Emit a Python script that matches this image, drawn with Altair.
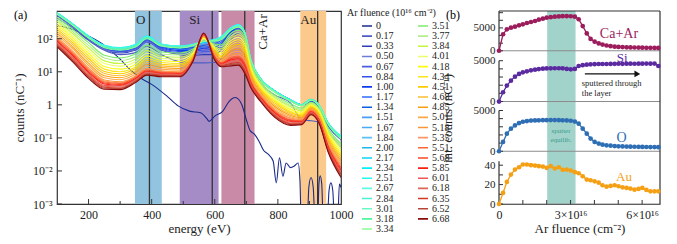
import altair as alt
import pandas as pd

FONT = "Liberation Serif"
INK = "#333333"

# ---------------- panel (a): spectra ----------------
fluence_labels = ["0", "0.17", "0.33", "0.50", "0.67", "0.84", "1.00", "1.17", "1.34", "1.51",
                  "1.67", "1.84", "2.00", "2.17", "2.34", "2.51", "2.67", "2.84", "3.01", "3.18", "3.34",
                  "3.51", "3.77", "3.84", "4.01", "4.18", "4.34", "4.51", "4.68", "4.85", "5.01",
                  "5.18", "5.35", "5.51", "5.68", "5.85", "6.01", "6.18", "6.35", "6.52", "6.68"]
curve_colors = ["#1a2a8a", "#4c5cc0", "#2e3eb4", "#6c7cdc", "#4a5ce0", "#3550e6", "#0a3cf0", "#2a6cff",
                "#0f5ee0", "#4a9ef4", "#48a8fa", "#5cc0fa", "#1cb8ea", "#0ad6f8", "#00eefe", "#1efcf0",
                "#5cfce6", "#48f0d6", "#6cf8c6", "#4cf6a0", "#8cfc94",
                "#7cec6c", "#b4ee8c", "#c4f640", "#eefc6c", "#fcfc10", "#fce41a", "#fccc00", "#fcbc30",
                "#fc9e10", "#fca848", "#fc9638", "#fc9668", "#fc6636", "#fc4626", "#fc1e10", "#ee5656",
                "#de6656", "#d63626", "#b64636", "#8a0a0a"]

energy_nodes = [100, 150, 200, 250, 300, 350, 385, 430, 490, 530, 565, 600, 620, 650, 675, 695,
                715, 745, 790, 840, 875, 905, 930, 960, 1000]

# log10(counts) for fluences 0.17 ... 6.68 at energy_nodes
spectra_log10 = [
    [2.62, 2.32, 1.95, 1.65, 1.52, 1.58, 1.78, 1.52, 1.30, 1.27, 1.27, 1.28, 1.40, 1.95, 2.18, 2.00, 1.20, 0.65, 0.30, 0.05, -0.45, -0.48, -0.52, -0.85, -1.25],
    [2.70, 2.36, 1.98, 1.68, 1.57, 1.66, 1.90, 1.66, 1.52, 1.50, 1.52, 1.52, 1.65, 2.10, 2.28, 2.08, 1.28, 0.75, 0.40, 0.12, -0.02, 0.10, -0.05, -0.65, -1.05],
    [2.71, 2.37, 1.99, 1.69, 1.59, 1.68, 1.92, 1.68, 1.55, 1.54, 1.57, 1.57, 1.70, 2.13, 2.30, 2.09, 1.29, 0.76, 0.40, 0.12, -0.02, 0.11, -0.05, -0.64, -1.04],
    [2.72, 2.38, 2.00, 1.71, 1.61, 1.70, 1.94, 1.70, 1.58, 1.58, 1.61, 1.63, 1.75, 2.15, 2.31, 2.11, 1.29, 0.76, 0.41, 0.13, -0.01, 0.11, -0.04, -0.63, -1.03],
    [2.73, 2.39, 2.01, 1.72, 1.63, 1.72, 1.96, 1.72, 1.61, 1.62, 1.66, 1.68, 1.80, 2.18, 2.33, 2.12, 1.30, 0.77, 0.41, 0.13, -0.01, 0.12, -0.04, -0.62, -1.02],
    [2.74, 2.40, 2.03, 1.73, 1.64, 1.74, 1.99, 1.75, 1.64, 1.65, 1.71, 1.74, 1.85, 2.20, 2.35, 2.14, 1.31, 0.77, 0.41, 0.14, -0.01, 0.13, -0.03, -0.61, -1.00],
    [2.75, 2.41, 2.04, 1.74, 1.66, 1.76, 2.01, 1.77, 1.67, 1.69, 1.75, 1.79, 1.90, 2.23, 2.37, 2.15, 1.31, 0.78, 0.41, 0.14, 0.00, 0.13, -0.03, -0.60, -0.99],
    [2.76, 2.42, 2.05, 1.76, 1.68, 1.78, 2.03, 1.79, 1.70, 1.73, 1.80, 1.85, 1.95, 2.25, 2.38, 2.17, 1.32, 0.78, 0.42, 0.15, 0.00, 0.14, -0.02, -0.59, -0.98],
    [2.77, 2.43, 2.06, 1.77, 1.70, 1.80, 2.05, 1.81, 1.73, 1.77, 1.85, 1.90, 2.00, 2.28, 2.40, 2.18, 1.33, 0.79, 0.42, 0.15, 0.00, 0.15, -0.02, -0.58, -0.97],
    [2.77, 2.43, 2.06, 1.77, 1.70, 1.80, 2.05, 1.81, 1.74, 1.78, 1.86, 1.91, 2.01, 2.29, 2.40, 2.18, 1.33, 0.79, 0.42, 0.15, 0.00, 0.15, -0.02, -0.58, -0.97],
    [2.77, 2.43, 2.06, 1.78, 1.71, 1.81, 2.06, 1.82, 1.75, 1.79, 1.87, 1.93, 2.02, 2.30, 2.41, 2.19, 1.33, 0.79, 0.42, 0.15, 0.00, 0.15, -0.02, -0.57, -0.97],
    [2.78, 2.44, 2.07, 1.78, 1.71, 1.81, 2.06, 1.82, 1.76, 1.80, 1.89, 1.94, 2.03, 2.31, 2.41, 2.19, 1.34, 0.79, 0.42, 0.15, 0.00, 0.16, -0.01, -0.57, -0.96],
    [2.78, 2.44, 2.07, 1.79, 1.72, 1.82, 2.07, 1.83, 1.76, 1.81, 1.90, 1.95, 2.04, 2.31, 2.41, 2.19, 1.34, 0.80, 0.42, 0.15, 0.00, 0.16, -0.01, -0.56, -0.96],
    [2.79, 2.45, 2.08, 1.79, 1.72, 1.82, 2.07, 1.83, 1.77, 1.82, 1.91, 1.97, 2.05, 2.32, 2.42, 2.20, 1.35, 0.80, 0.42, 0.15, 0.00, 0.17, 0.00, -0.56, -0.95],
    [2.79, 2.45, 2.08, 1.80, 1.73, 1.83, 2.08, 1.84, 1.78, 1.83, 1.92, 1.98, 2.06, 2.33, 2.42, 2.20, 1.35, 0.80, 0.42, 0.15, 0.00, 0.17, 0.00, -0.55, -0.95],
    [2.78, 2.44, 2.07, 1.79, 1.71, 1.81, 2.06, 1.83, 1.77, 1.82, 1.92, 1.97, 2.04, 2.31, 2.41, 2.19, 1.34, 0.79, 0.41, 0.14, -0.01, 0.16, -0.01, -0.56, -0.97],
    [2.77, 2.43, 2.06, 1.77, 1.70, 1.80, 2.05, 1.82, 1.76, 1.81, 1.92, 1.96, 2.02, 2.30, 2.39, 2.18, 1.34, 0.78, 0.40, 0.13, -0.01, 0.16, -0.01, -0.57, -0.98],
    [2.76, 2.42, 2.04, 1.76, 1.68, 1.78, 2.03, 1.80, 1.74, 1.81, 1.93, 1.95, 2.01, 2.28, 2.38, 2.17, 1.33, 0.78, 0.40, 0.13, -0.02, 0.15, -0.02, -0.58, -1.00],
    [2.75, 2.41, 2.03, 1.74, 1.67, 1.77, 2.02, 1.79, 1.73, 1.80, 1.93, 1.94, 1.99, 2.27, 2.36, 2.16, 1.33, 0.77, 0.39, 0.12, -0.02, 0.15, -0.02, -0.59, -1.01],
    [2.74, 2.40, 2.02, 1.73, 1.65, 1.75, 2.00, 1.78, 1.72, 1.79, 1.93, 1.93, 1.97, 2.25, 2.35, 2.15, 1.32, 0.76, 0.38, 0.11, -0.03, 0.14, -0.03, -0.60, -1.03],
    [2.65, 2.28, 1.88, 1.50, 1.42, 1.55, 1.80, 1.60, 1.57, 1.68, 1.96, 1.84, 1.82, 2.15, 2.26, 2.06, 1.25, 0.70, 0.30, 0.03, -0.10, 0.08, -0.10, -0.72, -1.18],
    [2.59, 2.21, 1.80, 1.42, 1.34, 1.47, 1.72, 1.54, 1.51, 1.64, 1.98, 1.80, 1.76, 2.08, 2.19, 1.99, 1.20, 0.66, 0.26, -0.02, -0.14, 0.05, -0.13, -0.77, -1.24],
    [2.53, 2.15, 1.72, 1.33, 1.25, 1.39, 1.64, 1.47, 1.44, 1.60, 2.00, 1.76, 1.69, 2.01, 2.12, 1.92, 1.15, 0.62, 0.22, -0.06, -0.18, 0.03, -0.16, -0.81, -1.31],
    [2.47, 2.08, 1.64, 1.25, 1.17, 1.31, 1.56, 1.41, 1.38, 1.56, 2.01, 1.73, 1.63, 1.94, 2.04, 1.84, 1.10, 0.58, 0.18, -0.11, -0.22, 0.00, -0.19, -0.86, -1.37],
    [2.41, 2.02, 1.56, 1.16, 1.08, 1.23, 1.48, 1.34, 1.31, 1.52, 2.03, 1.69, 1.56, 1.87, 1.97, 1.77, 1.05, 0.54, 0.14, -0.15, -0.26, -0.02, -0.22, -0.90, -1.44],
    [2.35, 1.95, 1.48, 1.08, 1.00, 1.15, 1.40, 1.28, 1.25, 1.48, 2.05, 1.65, 1.50, 1.80, 1.90, 1.70, 1.00, 0.50, 0.10, -0.20, -0.30, -0.05, -0.25, -0.95, -1.50],
    [2.29, 1.88, 1.41, 1.01, 0.94, 1.10, 1.34, 1.23, 1.20, 1.46, 2.06, 1.62, 1.46, 1.74, 1.83, 1.63, 0.95, 0.46, 0.05, -0.24, -0.33, -0.07, -0.28, -1.00, -1.56],
    [2.23, 1.82, 1.34, 0.95, 0.88, 1.04, 1.28, 1.18, 1.15, 1.43, 2.07, 1.58, 1.42, 1.68, 1.76, 1.56, 0.90, 0.42, 0.00, -0.28, -0.36, -0.09, -0.31, -1.05, -1.62],
    [2.17, 1.75, 1.26, 0.88, 0.82, 0.99, 1.22, 1.13, 1.10, 1.41, 2.08, 1.55, 1.38, 1.62, 1.69, 1.49, 0.85, 0.38, -0.05, -0.32, -0.39, -0.11, -0.34, -1.10, -1.68],
    [2.11, 1.69, 1.19, 0.82, 0.76, 0.93, 1.16, 1.08, 1.05, 1.38, 2.09, 1.51, 1.34, 1.56, 1.62, 1.42, 0.80, 0.34, -0.10, -0.36, -0.42, -0.13, -0.37, -1.15, -1.74],
    [2.05, 1.62, 1.12, 0.75, 0.70, 0.88, 1.10, 1.03, 1.00, 1.36, 2.10, 1.48, 1.30, 1.50, 1.55, 1.35, 0.75, 0.30, -0.15, -0.40, -0.45, -0.15, -0.40, -1.20, -1.80],
    [2.02, 1.58, 1.08, 0.72, 0.67, 0.86, 1.08, 1.01, 0.98, 1.35, 2.11, 1.47, 1.28, 1.46, 1.51, 1.31, 0.72, 0.28, -0.18, -0.42, -0.47, -0.17, -0.42, -1.23, -1.84],
    [1.99, 1.55, 1.05, 0.69, 0.65, 0.84, 1.06, 0.99, 0.97, 1.35, 2.12, 1.45, 1.27, 1.43, 1.47, 1.26, 0.69, 0.26, -0.20, -0.45, -0.48, -0.18, -0.43, -1.26, -1.89],
    [1.95, 1.51, 1.01, 0.66, 0.62, 0.81, 1.03, 0.97, 0.95, 1.34, 2.12, 1.44, 1.25, 1.39, 1.43, 1.22, 0.67, 0.23, -0.23, -0.47, -0.50, -0.20, -0.45, -1.28, -1.93],
    [1.92, 1.48, 0.98, 0.63, 0.59, 0.79, 1.01, 0.95, 0.93, 1.33, 2.13, 1.42, 1.23, 1.36, 1.39, 1.17, 0.64, 0.21, -0.25, -0.50, -0.52, -0.22, -0.47, -1.31, -1.98],
    [1.89, 1.44, 0.94, 0.59, 0.57, 0.77, 0.99, 0.93, 0.92, 1.33, 2.14, 1.41, 1.22, 1.32, 1.36, 1.13, 0.61, 0.19, -0.28, -0.52, -0.53, -0.23, -0.48, -1.34, -2.02],
    [1.86, 1.41, 0.91, 0.56, 0.54, 0.75, 0.97, 0.91, 0.90, 1.32, 2.15, 1.39, 1.20, 1.29, 1.32, 1.08, 0.58, 0.17, -0.30, -0.55, -0.55, -0.25, -0.50, -1.37, -2.07],
    [1.82, 1.37, 0.87, 0.53, 0.51, 0.72, 0.94, 0.89, 0.88, 1.31, 2.15, 1.38, 1.18, 1.25, 1.28, 1.04, 0.56, 0.14, -0.33, -0.57, -0.57, -0.27, -0.52, -1.39, -2.11],
    [1.79, 1.34, 0.84, 0.50, 0.49, 0.70, 0.92, 0.87, 0.87, 1.31, 2.16, 1.36, 1.17, 1.22, 1.24, 0.99, 0.53, 0.12, -0.35, -0.60, -0.58, -0.28, -0.53, -1.42, -2.16],
    [1.76, 1.30, 0.80, 0.47, 0.46, 0.68, 0.90, 0.85, 0.85, 1.30, 2.17, 1.35, 1.15, 1.18, 1.20, 0.95, 0.50, 0.10, -0.38, -0.62, -0.60, -0.30, -0.55, -1.45, -2.20],
]

# the fluence-0 spectrum (own energy grid)
energy_zero = [100, 150, 200, 250, 300, 330, 370, 400, 450, 485, 520, 555, 575, 582, 600, 625, 645, 665,
               685, 700, 712, 725, 740, 755, 770, 785, 795, 805, 816, 826, 840, 852, 864, 870, 874,
               893, 898, 905, 912, 918, 926, 930, 934, 939, 944, 956, 962, 968, 974, 980, 989, 995, 1000]
log10_zero = [2.40, 2.28, 2.08, 1.80, 1.38, 1.08, 0.78, 0.62, 0.25, -0.04, -0.19, -0.24, -0.42, -0.50,
              -0.34, -0.20, 0.10, 0.22, 0.02, -0.45, -0.78, -0.88, -1.10, -1.38, -1.50, -1.70, -2.36,
              -1.60, -2.16, -1.76, -1.90, -1.85, -1.76, -2.30, -3.60, -3.60, -2.50, -2.20, -2.50, -3.60,
              -3.60, -2.40, -2.15, -2.40, -3.60, -3.60, -2.60, -2.36, -2.60, -3.60, -3.60, -2.40, -2.50]

band_start = [347, 489, 621, 871]
band_end = [432, 612, 726, 953]
band_fill = ["#92c3df", "#a68cc6", "#c98aa7", "#fcc98d"]
edge_energy = [393, 592, 695, 926]
elem_text = ["O", "Si", "Au"]
elem_energy = [365, 536, 896]
elem_counts = [370, 370, 370]
caar_text = ["Ca+Ar"]
caar_energy = [752]
caar_counts = [160]
xtick_major_a = [200, 400, 600, 800]
xtick_minor_a = [300, 500, 700, 900]
ytick_a = [0.001, 0.01, 0.1, 1, 10, 100]

# ---------------- panel (b): integrated counts ----------------
fluence_b = [0, 0.17, 0.33, 0.50, 0.67, 0.84, 1.00, 1.17, 1.34, 1.51, 1.67, 1.84, 2.00, 2.17, 2.34,
             2.51, 2.67, 2.84, 3.01, 3.18, 3.34, 3.51, 3.68, 3.84, 4.01, 4.18, 4.34, 4.51, 4.68, 4.85,
             5.01, 5.18, 5.35, 5.51, 5.68, 5.85, 6.01, 6.18, 6.35, 6.52, 6.68]
caar_int = [0, 3620, 4700, 5060, 5280, 5570, 5790, 6080, 6300, 6510, 6800, 7020, 7230, 7350, 7450,
            7520, 7560, 7560, 7550, 7450, 6900, 5400, 3800, 2600, 2000, 1600, 1350, 1150, 1000, 900,
            850, 800, 760, 730, 710, 690, 670, 650, 640, 630, 620]
si_int = [0, 1140, 1950, 2560, 3050, 3380, 3580, 3700, 3820, 3900, 3980, 4030, 4050, 4070, 4080,
          4080, 4070, 4000, 3950, 4000, 4350, 4450, 4520, 4560, 4580, 4600, 4600, 4600, 4610, 4620,
          4630, 4620, 4630, 4640, 4630, 4640, 4640, 4650, 4640, 4650, 4350]
o_int = [0, 1140, 2160, 2770, 3170, 3460, 3620, 3700, 3760, 3780, 3800, 3810, 3810, 3820, 3820,
         3810, 3800, 3780, 3740, 3640, 3380, 2770, 2160, 1550, 1140, 940, 810, 730, 680, 640,
         610, 590, 570, 560, 550, 540, 530, 520, 510, 510, 500]
au_int = [0, 11.4, 22.8, 30.3, 35.5, 37.9, 40.7, 40.7, 40.0, 39.6, 39.0, 38.6, 37.2, 39.0, 36.6,
          37.9, 35.2, 35.5, 34.5, 32.8, 31.7, 28.6, 25.2, 24.5, 23.4, 22.0, 19.3, 17.9, 18.6, 19.3,
          18.3, 17.2, 16.6, 15.9, 14.8, 15.5, 16.6, 14.5, 13.1, 13.1, 13.1]
sputter_eq = [2.02, 3.21]

for row in spectra_log10:
    assert len(row) == len(energy_nodes)
assert len(spectra_log10) == len(fluence_labels) - 1
assert len(energy_zero) == len(log10_zero)
for s in (caar_int, si_int, o_int, au_int):
    assert len(s) == len(fluence_b)

# ---------------- build panel (a) ----------------
rows = [{"energy": e, "counts": 10 ** v, "fluence": "0"} for e, v in zip(energy_zero, log10_zero)]
for lab, vals in zip(fluence_labels[1:], spectra_log10):
    rows += [{"energy": e, "counts": 10 ** v, "fluence": lab} for e, v in zip(energy_nodes, vals)]
df_spec = pd.DataFrame(rows)

xs_a = alt.Scale(domain=[100, 1000], nice=False, zero=False)
ys_a = alt.Scale(type="log", domain=[0.001, 690], nice=False)
xaxis_a = alt.Axis(values=[200, 400, 600, 800, 1000], format="d", title="energy (eV)", ticks=False,
                   domain=False, grid=False, labelFlush=False, labelPadding=5, titlePadding=2)
yaxis_a = alt.Axis(values=ytick_a, title="counts (nC⁻¹)", ticks=False, domain=False, grid=False,
                   labelPadding=5, titlePadding=6,
                   labelExpr="datum.value >= 50 ? '10²' : datum.value >= 5 ? '10¹' : datum.value >= 0.5 ? '1' : datum.value >= 0.05 ? '10⁻¹' : datum.value >= 0.005 ? '10⁻²' : '10⁻³'")


def XA(f):
    return alt.X(f, type="quantitative", scale=xs_a, axis=xaxis_a)


def YA(f):
    return alt.Y(f, type="quantitative", scale=ys_a, axis=yaxis_a)


bands_a = alt.Chart(pd.DataFrame({"s": band_start, "e": band_end, "c": band_fill})).mark_rect().encode(
    x=XA("s"), x2=alt.X2("e"), fill=alt.Fill("c:N", scale=None))
edges_a = alt.Chart(pd.DataFrame({"E": edge_energy})).mark_rule(color=INK, strokeWidth=1.3).encode(x=XA("E"))
curves_a = alt.Chart(df_spec).mark_line(clip=True, strokeWidth=1.1, interpolate="monotone").encode(
    x=XA("energy"), y=YA("counts"),
    color=alt.Color("fluence:N", scale=alt.Scale(domain=fluence_labels, range=curve_colors),
                    legend=alt.Legend(title="Ar fluence (10¹⁶ cm⁻²)", orient="none", legendX=290, legendY=-3,
                                      columns=2, symbolType="stroke", symbolSize=100, symbolStrokeWidth=1.6,
                                      symbolLimit=60, clipHeight=10, symbolOffset=14,
                                      labelFontSize=10, titleFontSize=10, titleFontWeight="normal",
                                      titleAnchor="start", rowPadding=0.15, columnPadding=9,
                                      labelOffset=3, titlePadding=3, padding=0)))
elem_a = alt.Chart(pd.DataFrame({"E": elem_energy, "c": elem_counts, "t": elem_text})).mark_text(
    fontSize=13, color="#222222", baseline="middle").encode(x=XA("E"), y=YA("c"), text="t:N")
caar_a = alt.Chart(pd.DataFrame({"E": caar_energy, "c": caar_counts, "t": caar_text})).mark_text(
    fontSize=13, color="#222222", baseline="middle", angle=270).encode(x=XA("E"), y=YA("c"), text="t:N")
xt1_a = alt.Chart(pd.DataFrame({"E": xtick_major_a})).mark_rule(color=INK).encode(
    x=XA("E"), y=alt.value(193), y2=alt.value(188))
xt2_a = alt.Chart(pd.DataFrame({"E": xtick_minor_a})).mark_rule(color=INK).encode(
    x=XA("E"), y=alt.value(193), y2=alt.value(190))
yt_a = alt.Chart(pd.DataFrame({"v": ytick_a})).mark_rule(color=INK).encode(
    y=YA("v"), x=alt.value(0), x2=alt.value(5))
tag_a = alt.Chart(pd.DataFrame({"t": ["(a)"]})).mark_text(fontSize=12, align="left", baseline="middle").encode(
    x=alt.value(-43), y=alt.value(4), text="t:N")

panel_a = alt.layer(bands_a, edges_a, curves_a, elem_a, caar_a, xt1_a, xt2_a, yt_a, tag_a).properties(
    width=284, height=193, view=alt.ViewBackground(stroke=INK, strokeWidth=1.2))

# ---------------- build panel (b) ----------------
xs_b = alt.Scale(domain=[0, 6.75], nice=False, zero=False)
TEAL = "#a2d3ca"


def subpanel(values, color, ydom, ytick_vals, ylabel_vals, spine_top, name, lx, ly, lsize, h,
             first=False, last=False, extra=(), ytitle=False):
    ys = alt.Scale(domain=ydom, nice=False, zero=False)
    if ytitle:
        yax = alt.Axis(values=ylabel_vals, title="int. counts (nC⁻¹)", titleX=-52, titleY=11,
                       titleBaseline="middle", titleAngle=270, titleFontSize=13, labelFontSize=11,
                       ticks=False, domain=False, grid=False, labelPadding=4, format="d")
    else:
        yax = alt.Axis(values=ylabel_vals, title=None, ticks=False, domain=False, grid=False,
                       labelPadding=4, format="d", labelFontSize=11)
    if last:
        xax = alt.Axis(values=[0, 3, 6], labelExpr="datum.value == 0 ? '0' : datum.value + '×10¹⁶'",
                       title="Ar fluence (cm⁻²)", ticks=False, domain=True, domainColor=INK,
                       domainWidth=1.2, grid=False, labelFlush=False, labelPadding=5, titlePadding=2)
    else:
        xax = None

    def XB(f):
        return alt.X(f, type="quantitative", scale=xs_b, axis=xax)

    def YB(f):
        return alt.Y(f, type="quantitative", scale=ys, axis=yax)

    df = pd.DataFrame({"f": fluence_b, "v": values})
    layers = [
        alt.Chart(pd.DataFrame({"s": [sputter_eq[0]], "e": [sputter_eq[1]]})).mark_rect(color=TEAL).encode(
            x=XB("s"), x2=alt.X2("e")),
        alt.Chart(pd.DataFrame({"v": [0]})).mark_rule(color="#8c8c8c", strokeWidth=1).encode(y=YB("v")),
        alt.Chart(pd.DataFrame({"f": [6.75]})).mark_rule(color=INK, strokeWidth=1.2).encode(x=XB("f")),
        alt.Chart(pd.DataFrame({"f": [0], "a": [0], "b": [spine_top]})).mark_rule(color=INK, strokeWidth=1.2).encode(
            x=XB("f"), y=YB("a"), y2=alt.Y2("b")),
        alt.Chart(pd.DataFrame({"t": ytick_vals})).mark_rule(color=INK).encode(
            y=YB("t"), x=alt.value(0), x2=alt.value(4)),
        alt.Chart(df).mark_line(color=color, strokeWidth=1.3).encode(x=XB("f"), y=YB("v")),
        alt.Chart(df).mark_circle(color=color, size=22, opacity=1).encode(x=XB("f"), y=YB("v")),
        alt.Chart(pd.DataFrame({"f": [lx], "v": [ly], "t": [name]})).mark_text(
            color=color, fontSize=lsize, baseline="middle").encode(x=XB("f"), y=YB("v"), text="t:N"),
    ]
    if first:
        layers.append(alt.Chart(pd.DataFrame({"v": [ydom[1]]})).mark_rule(color=INK, strokeWidth=1.2).encode(
            y=YB("v")))
        layers.append(alt.Chart(pd.DataFrame({"t": ["(b)"]})).mark_text(
            fontSize=12, align="center", baseline="middle").encode(
            x=alt.value(-46), y=alt.value(4), text="t:N"))
    if last:
        layers.append(alt.Chart(pd.DataFrame({"f": [1, 2, 3, 4, 5, 6]})).mark_rule(color=INK).encode(
            x=XB("f"), y=alt.value(h), y2=alt.value(h - 4)))
    for kind, d, kw in extra:
        if kind == "text":
            layers.append(alt.Chart(pd.DataFrame(d)).mark_text(**kw).encode(x=XB("f"), y=YB("v"), text="t:N"))
        elif kind == "rule":
            layers.append(alt.Chart(pd.DataFrame(d)).mark_rule(**kw).encode(x=XB("f"), x2=alt.X2("f2"), y=YB("v")))
        elif kind == "point":
            layers.append(alt.Chart(pd.DataFrame(d)).mark_point(**kw).encode(x=XB("f"), y=YB("v")))
    return alt.layer(*layers).properties(width=161, height=h,
                                         view=alt.ViewBackground(stroke="transparent"))


arrow_extra = [
    ("rule", {"f": [3.6], "f2": [5.8], "v": [3380]}, {"color": "#111111", "strokeWidth": 1.3}),
    ("point", {"f": [5.8], "v": [3380]}, {"shape": "triangle-right", "filled": True, "size": 45,
                                           "color": "#111111", "opacity": 1}),
    ("text", {"f": [3.47, 3.47], "v": [2320, 1100], "t": ["sputtered through", "the layer"]},
     {"fontSize": 8.5, "align": "left", "baseline": "middle", "color": "#222222"}),
]
sputter_extra = [
    ("text", {"f": [2.6, 2.6], "v": [2440, 1400], "t": ["sputter", "equilib."]},
     {"fontSize": 7, "align": "center", "baseline": "middle", "color": "#3c9c8c"}),
]

p_caar = subpanel(caar_int, "#9c1c5c", [-1800, 8700], [0, 1667, 3333, 5000, 6667, 8333], [0, 5000], 8700,
                  "Ca+Ar", 5.03, 3690, 14, 48, first=True)
p_si = subpanel(si_int, "#5b2aa0", [-670, 5210], [0, 1000, 2000, 3000, 4000, 5000], [0, 5000], 5000,
                "Si", 5.16, 5300, 13, 48, extra=arrow_extra)
p_o = subpanel(o_int, "#2e6eb4", [-460, 5430], [0, 1000, 2000, 3000, 4000, 5000], [0, 5000], 5000,
               "O", 5.14, 1590, 14, 48, extra=sputter_extra, ytitle=True)
p_au = subpanel(au_int, "#f5a014", [0, 50.5], [0, 10, 20, 30, 40], [0, 20, 40], 44,
                "Au", 5.24, 27.5, 13, 49, last=True)

panel_b = alt.vconcat(p_caar, p_si, p_o, p_au, spacing=0, bounds="flush")

chart = alt.hconcat(panel_a, panel_b, spacing=86).properties(
    padding={"left": 4, "top": 0, "right": 2, "bottom": 2}
).configure(font=FONT).configure_view(stroke="transparent").configure_axis(
    labelFont=FONT, titleFont=FONT, labelFontSize=12, titleFontSize=13, titleFontWeight="normal",
    labelColor="#222222", titleColor="#222222"
).configure_legend(labelFont=FONT, titleFont=FONT, labelColor="#222222", titleColor="#222222"
).configure_text(font=FONT)

chart.save("out.html", embed_options={"renderer": "svg", "actions": False})
